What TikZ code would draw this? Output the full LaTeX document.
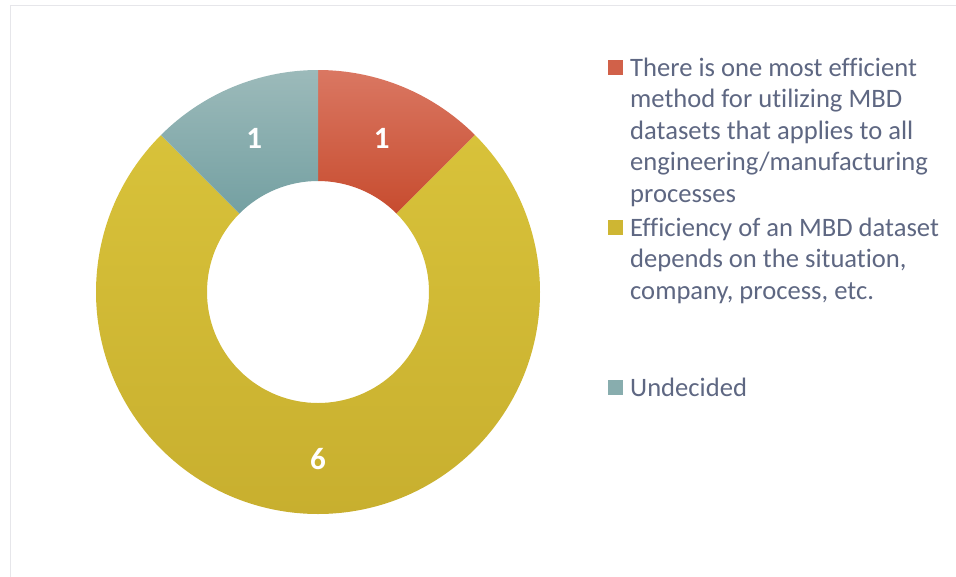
\documentclass[tikz,border=0pt]{standalone}
\usepackage{fontspec}
\setmainfont{Carlito}[Ligatures={NoCommon}]
\usepackage{tikz}

\definecolor{redtop}{HTML}{DA7762}
\definecolor{redbot}{HTML}{C74C2F}
\definecolor{yeltop}{HTML}{D8C23A}
\definecolor{yelbot}{HTML}{C7AE2E}
\definecolor{tealtop}{HTML}{9CBABA}
\definecolor{tealbot}{HTML}{74A0A2}
\definecolor{legtext}{HTML}{5E6782}
\definecolor{framegrey}{HTML}{E6E6EA}

\tikzset{
  slicelbl/.style={text=white, font=\fontsize{31}{36}\selectfont\bfseries, inner sep=0.75pt},
  legkey/.style={minimum size=15pt, inner sep=0pt, anchor=south west},
  legtxt/.style={text=legtext, font=\fontsize{26.6}{31.6}\selectfont, align=left, anchor=base west, inner sep=0pt}
}

\begin{document}
\begin{tikzpicture}[x=1pt,y=1pt,yscale=-1,xscale=1]
\useasboundingbox (0,0) rectangle (956,576);

%Frame
\draw [framegrey, line width=1.5pt] (10.5,590) -- (10.5,5.5) -- (970,5.5) ;

\coordinate (c) at (318,292);

%Slice red
\shade [top color=redtop, bottom color=redbot] ([shift={(-90:222)}]c) arc[start angle=-90, end angle=-45, radius=222] -- ([shift={(-45:111)}]c) arc[start angle=-45, end angle=-90, radius=111] -- cycle ;
%Slice yellow
\shade [top color=yeltop, bottom color=yelbot] ([shift={(-45:222)}]c) arc[start angle=-45, end angle=225, radius=222] -- ([shift={(225:111)}]c) arc[start angle=225, end angle=-45, radius=111] -- cycle ;
%Slice teal
\shade [top color=tealtop, bottom color=tealbot] ([shift={(225:222)}]c) arc[start angle=225, end angle=270, radius=222] -- ([shift={(270:111)}]c) arc[start angle=270, end angle=225, radius=111] -- cycle ;

% Text Node
\node [slicelbl] (lblred) at ([shift={(-67.5:166.5)}]c) {1};
% Text Node
\node [slicelbl] (lblteal) at ([shift={(247.5:166.5)}]c) {1};
% Text Node
\node [slicelbl] (lblyel) at ([shift={(90:167)}]c) {6};

%Legend (base anchor sits on the last line)
\node [legkey, fill=redtop!50!redbot] (keyred) at (608,75.5) {};
\node [legtxt] (legred) at (630,202.4) {There is one most efficient\\method for utilizing MBD\\datasets that applies to all\\engineering/manufacturing\\processes};
\node [legkey, fill=yeltop!40!yelbot] (keyyel) at (608,235.5) {};
\node [legtxt] (legyel) at (630,299.2) {Efficiency of an MBD dataset\\depends on the situation,\\company, process, etc.};
\node [legkey, fill=tealtop!50!tealbot] (keyteal) at (608,395.5) {};
\node [legtxt] (legteal) at (630,396) {Undecided};
\end{tikzpicture}
\end{document}
